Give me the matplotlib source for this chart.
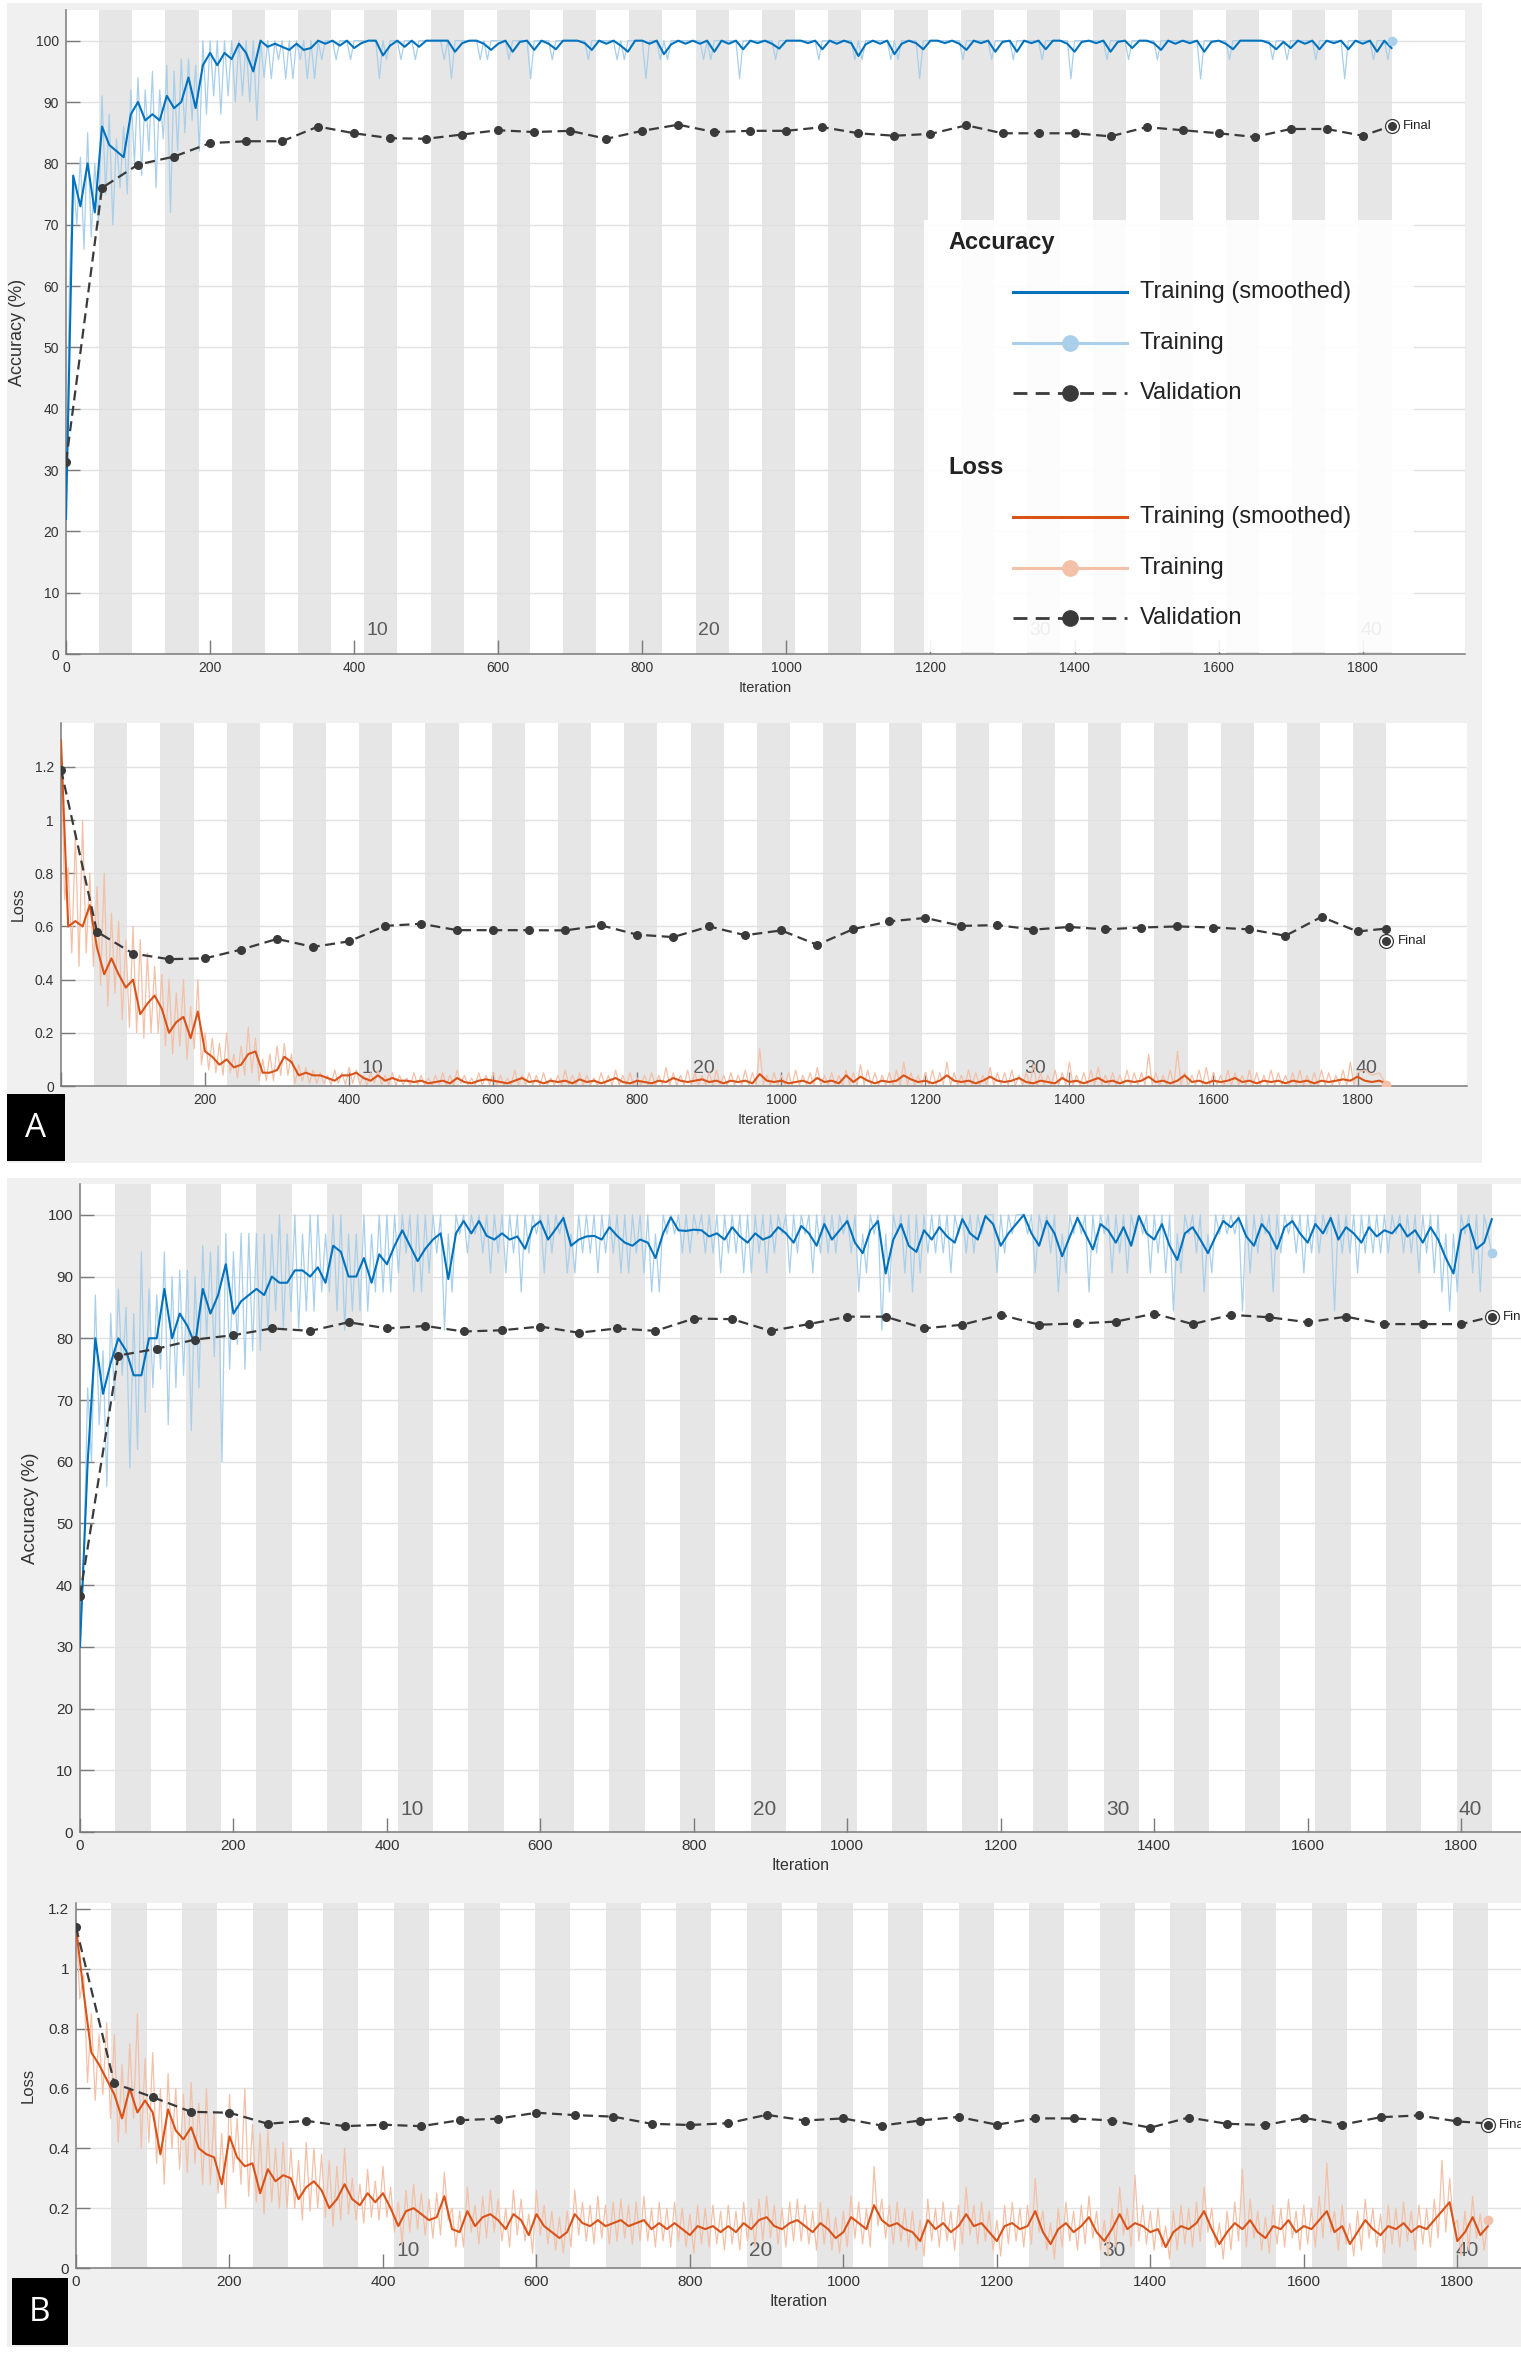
"""
Training-progress plots (MATLAB style) for two runs, panels A and B:
accuracy and loss vs iteration, 40 epochs x 46 iterations.
Values were read off the original figure by eye.
"""

import numpy as np
import matplotlib
matplotlib.use("Agg")
import matplotlib.pyplot as plt
import matplotlib.transforms as mtransforms
from matplotlib.patches import Rectangle
from matplotlib.lines import Line2D
from matplotlib.ticker import FuncFormatter, MultipleLocator

W, H = 1521, 2356

N_EPOCHS = 40
ITERS_PER_EPOCH = 46
STEP = 10                      # smoothed curves sampled every 10 iterations
EPOCH_LABELS = [10, 20, 30, 40]
VAL_ITERS = list(range(0, 1801, 50)) + [1840]

# ---------------- panel A, accuracy ----------------
acc_a_smooth = [
    22, 78, 73, 80, 72, 86, 83, 82, 81, 88,
    90, 87, 88, 87, 91, 89, 90, 94, 89, 96,
    98, 96, 98, 97, 99.5, 98, 95, 100, 99, 99.5,
    99, 98.5, 99.5, 98.5, 98.8, 100, 99.5, 100, 99.2, 100,
    98.8, 99.6, 100, 100, 97.6, 99.2, 100, 99, 100, 99,
    100, 100, 100, 100, 98.2, 99.6, 100, 100, 99.5, 98.5,
    99.5, 100, 98.2, 99.8, 100, 98.5, 100, 99.5, 98.6, 100,
    100, 100, 99.6, 98.5, 100, 99.5, 100, 99.2, 98.2, 100,
    100, 99.5, 100, 97.8, 99.4, 100, 99.5, 100, 99.5, 100,
    98.2, 100, 99.5, 100, 98.6, 100, 99.6, 100, 99.5, 98.7,
    100, 100, 100, 99.6, 100, 98.6, 100, 99.5, 100, 99.6,
    97.5, 99.4, 100, 99.5, 100, 97.8, 99.5, 100, 99.6, 98.6,
    100, 100, 99.6, 100, 99.5, 98.5, 100, 99.6, 100, 98.2,
    99.8, 100, 98.2, 100, 99.6, 100, 98.6, 100, 100, 99.5,
    98.2, 99.8, 100, 99.6, 100, 98.2, 99.8, 100, 98.8, 100,
    100, 99.6, 98.5, 100, 99.5, 100, 99.6, 100, 98.2, 99.8,
    100, 99.5, 98.6, 100, 100, 100, 100, 99.6, 98.6, 99.8,
    98.8, 100, 99.5, 100, 98.6, 100, 99.6, 100, 98.6, 100,
    99.5, 100, 98.2, 100, 98.8,
]
# raw mini-batch accuracy: at iterations 0, 10, 20, ... and 5, 15, 25, ...
acc_a_raw_even = [
    22, 78, 81, 85, 80, 91, 88, 84, 86, 92,
    94, 92, 95, 92, 96, 95, 97, 97, 96, 100,
    100, 100, 100, 100, 100, 100, 100, 100, 100, 100,
    100, 100, 100, 100, 100, 100, 100, 100, 100, 100,
    100, 100, 100, 100, 100, 100, 100, 100, 100, 100,
    100, 100, 100, 100, 100, 100, 100, 100, 100, 100,
    100, 100, 100, 100, 100, 100, 100, 100, 100, 100,
    100, 100, 100, 100, 100, 100, 100, 100, 100, 100,
    100, 100, 100, 100, 100, 100, 100, 100, 100, 100,
    100, 100, 100, 100, 100, 100, 100, 100, 100, 100,
    100, 100, 100, 100, 100, 100, 100, 100, 100, 100,
    100, 100, 100, 100, 100, 100, 100, 100, 100, 100,
    100, 100, 100, 100, 100, 100, 100, 100, 100, 100,
    100, 100, 100, 100, 100, 100, 100, 100, 100, 100,
    100, 100, 100, 100, 100, 100, 100, 100, 100, 100,
    100, 100, 100, 100, 100, 100, 100, 100, 100, 100,
    100, 100, 100, 100, 100, 100, 100, 100, 100, 100,
    100, 100, 100, 100, 100, 100, 100, 100, 100, 100,
    100, 100, 100, 100, 100,
]
acc_a_raw_odd = [
    62, 70, 66, 68, 70, 75, 70, 76, 75, 80,
    78, 82, 76, 84, 72, 82, 85, 87, 82, 88,
    91, 88, 91, 90, 91, 90, 87, 94, 93.8, 96.9,
    93.8, 93.8, 96.9, 93.8, 93.8, 96.9, 100, 96.9, 100, 96.9,
    100, 100, 100, 93.8, 96.9, 100, 96.9, 100, 96.9, 100,
    100, 100, 96.9, 93.8, 100, 100, 100, 96.9, 96.9, 100,
    100, 96.9, 100, 100, 93.8, 100, 100, 96.9, 100, 100,
    100, 100, 96.9, 100, 100, 100, 96.9, 96.9, 100, 100,
    93.8, 100, 96.9, 96.9, 100, 100, 100, 100, 96.9, 96.9,
    100, 100, 100, 93.8, 100, 100, 100, 100, 96.9, 100,
    100, 100, 100, 100, 96.9, 100, 100, 100, 100, 96.9,
    96.9, 100, 100, 100, 96.9, 96.9, 100, 100, 93.8, 100,
    100, 100, 100, 100, 96.9, 100, 100, 100, 96.9, 100,
    100, 96.9, 100, 100, 100, 96.9, 100, 100, 100, 93.8,
    100, 100, 100, 100, 96.9, 100, 100, 96.9, 100, 100,
    100, 96.9, 100, 100, 100, 100, 100, 93.8, 100, 100,
    100, 96.9, 100, 100, 100, 100, 100, 96.9, 100, 96.9,
    100, 100, 100, 96.9, 100, 100, 100, 93.8, 100, 100,
    100, 96.9, 100, 96.9,
]
acc_a_val = [
    31.3, 76.0, 79.8, 81.1, 83.3, 83.6, 83.6, 86.0, 84.9, 84.1,
    84.0, 84.7, 85.4, 85.1, 85.3, 84.0, 85.3, 86.3, 85.1, 85.3,
    85.3, 85.9, 84.9, 84.5, 84.8, 86.2, 84.9, 84.9, 84.9, 84.4,
    85.9, 85.4, 84.9, 84.3, 85.6, 85.6, 84.5, 86.1,
]
acc_a_final = 86.1

# ---------------- panel A, loss ----------------
loss_a_smooth = [
    1.30, 0.60, 0.62, 0.60, 0.68, 0.52, 0.42, 0.48, 0.42, 0.37,
    0.40, 0.27, 0.31, 0.34, 0.29, 0.20, 0.24, 0.26, 0.18, 0.28,
    0.13, 0.11, 0.08, 0.10, 0.07, 0.08, 0.12, 0.13, 0.05, 0.05,
    0.06, 0.11, 0.09, 0.04, 0.05, 0.04, 0.04, 0.03, 0.02, 0.04,
    0.04, 0.05, 0.03, 0.02, 0.04, 0.02, 0.03, 0.02, 0.02, 0.015,
    0.02, 0.01, 0.015, 0.02, 0.01, 0.03, 0.015, 0.01, 0.02, 0.025,
    0.02, 0.015, 0.01, 0.02, 0.03, 0.015, 0.02, 0.01, 0.02, 0.015,
    0.02, 0.01, 0.025, 0.015, 0.02, 0.01, 0.02, 0.03, 0.015, 0.01,
    0.02, 0.015, 0.01, 0.02, 0.015, 0.03, 0.02, 0.015, 0.02, 0.025,
    0.015, 0.02, 0.01, 0.02, 0.015, 0.02, 0.01, 0.045, 0.02, 0.015,
    0.02, 0.01, 0.015, 0.02, 0.01, 0.03, 0.015, 0.02, 0.01, 0.04,
    0.015, 0.035, 0.02, 0.01, 0.02, 0.015, 0.02, 0.04, 0.025, 0.015,
    0.02, 0.01, 0.02, 0.04, 0.02, 0.015, 0.02, 0.01, 0.02, 0.035,
    0.02, 0.015, 0.02, 0.03, 0.015, 0.01, 0.02, 0.015, 0.01, 0.03,
    0.015, 0.02, 0.01, 0.02, 0.03, 0.015, 0.02, 0.01, 0.02, 0.015,
    0.02, 0.035, 0.015, 0.02, 0.01, 0.02, 0.04, 0.015, 0.02, 0.01,
    0.02, 0.015, 0.02, 0.03, 0.015, 0.02, 0.01, 0.02, 0.015, 0.02,
    0.01, 0.02, 0.015, 0.02, 0.01, 0.02, 0.015, 0.02, 0.025, 0.02,
    0.035, 0.02, 0.015, 0.02, 0.01,
]
loss_a_raw_even = [
    1.30, 0.82, 0.95, 1.00, 0.80, 0.75, 0.80, 0.65, 0.62, 0.55,
    0.60, 0.55, 0.50, 0.45, 0.42, 0.40, 0.35, 0.40, 0.30, 0.40,
    0.20, 0.18, 0.16, 0.20, 0.12, 0.15, 0.22, 0.18, 0.10, 0.12,
    0.15, 0.16, 0.12, 0.08, 0.07, 0.06,
    0.05, 0.04, 0.06, 0.05, 0.07, 0.06, 0.04, 0.05, 0.06, 0.04,
    0.05, 0.04, 0.03, 0.05, 0.04, 0.03, 0.04, 0.05, 0.04, 0.06,
    0.04, 0.03, 0.05, 0.04, 0.05, 0.04, 0.03, 0.06, 0.04, 0.05,
    0.04, 0.05, 0.03, 0.04, 0.06, 0.04, 0.05, 0.04, 0.03, 0.05,
    0.04, 0.06, 0.04, 0.05, 0.03, 0.04, 0.05, 0.04, 0.07, 0.05,
    0.04, 0.06, 0.05, 0.04, 0.05, 0.06, 0.04, 0.05, 0.04, 0.06,
    0.05, 0.14, 0.04, 0.05, 0.04, 0.05, 0.06, 0.04, 0.05, 0.07,
    0.04, 0.05, 0.04, 0.06, 0.05, 0.08, 0.06, 0.05, 0.04, 0.05,
    0.06, 0.09, 0.05, 0.04, 0.05, 0.06, 0.05, 0.09, 0.05, 0.04,
    0.06, 0.05, 0.04, 0.07, 0.05, 0.05, 0.06, 0.04, 0.05, 0.08,
    0.05, 0.04, 0.06, 0.05, 0.09, 0.04, 0.05, 0.06, 0.07, 0.04,
    0.05, 0.04, 0.06, 0.05, 0.05, 0.12, 0.05, 0.04, 0.06, 0.13,
    0.05, 0.04, 0.06, 0.07, 0.05, 0.04, 0.06, 0.05, 0.04, 0.06,
    0.05, 0.04, 0.06, 0.05, 0.04, 0.05, 0.06, 0.04, 0.05, 0.06,
    0.05, 0.04, 0.06, 0.09, 0.05, 0.06, 0.04, 0.05, 0.005,
]
loss_a_raw_odd = [
    0.70, 0.50, 0.45, 0.50, 0.45, 0.38, 0.30, 0.35, 0.25, 0.22,
    0.20, 0.18, 0.20, 0.20, 0.15, 0.12, 0.15, 0.10, 0.14, 0.08,
    0.06, 0.05, 0.04, 0.05, 0.03, 0.04, 0.05, 0.02, 0.02, 0.02,
    0.04, 0.04, 0.01, 0.02, 0.01, 0.01,
    0.010, 0.005, 0.010, 0.004, 0.010, 0.006, 0.003, 0.010, 0.005, 0.004,
    0.003, 0.005, 0.002, 0.004, 0.003, 0.002, 0.004, 0.003, 0.002, 0.010,
    0.004, 0.003, 0.002, 0.005, 0.003, 0.002, 0.004, 0.003, 0.005, 0.002,
    0.003, 0.004, 0.002, 0.003, 0.005, 0.002, 0.003, 0.004, 0.002, 0.003,
    0.002, 0.004, 0.003, 0.002, 0.005, 0.003, 0.002, 0.004, 0.003, 0.002,
    0.004, 0.003, 0.002, 0.005, 0.003, 0.004, 0.002, 0.003, 0.004, 0.002,
    0.003, 0.005, 0.002, 0.003, 0.004, 0.002, 0.003, 0.005, 0.002, 0.003,
    0.004, 0.002, 0.003, 0.005, 0.002, 0.004, 0.003, 0.002, 0.004, 0.003,
    0.002, 0.005, 0.003, 0.002, 0.004, 0.003, 0.005, 0.002, 0.003, 0.004,
    0.002, 0.003, 0.004, 0.002, 0.005, 0.003, 0.002, 0.004, 0.003, 0.002,
    0.004, 0.003, 0.002, 0.005, 0.003, 0.002, 0.004, 0.003, 0.005, 0.002,
    0.003, 0.004, 0.002, 0.003, 0.005, 0.002, 0.003, 0.004, 0.002, 0.003,
    0.002, 0.004, 0.003, 0.002, 0.005, 0.003, 0.002, 0.004, 0.003, 0.002,
    0.004, 0.003, 0.002, 0.005, 0.003, 0.004, 0.002, 0.003, 0.004, 0.002,
    0.003, 0.005, 0.002, 0.004,
]
loss_a_val = [
    1.19, 0.58, 0.498, 0.477, 0.48, 0.513, 0.553, 0.523, 0.544, 0.602,
    0.61, 0.586, 0.586, 0.586, 0.585, 0.604, 0.569, 0.56, 0.60, 0.567,
    0.585, 0.531, 0.59, 0.619, 0.632, 0.602, 0.605, 0.588, 0.598, 0.589,
    0.596, 0.60, 0.596, 0.589, 0.565, 0.636, 0.581, 0.592,
]
loss_a_final = 0.545

# ---------------- panel B, accuracy ----------------
acc_b_smooth = [
    30, 60, 80, 71, 76, 80, 78, 74, 74, 80,
    80, 88, 80, 84, 82, 79, 88, 84, 87, 92,
    84, 86, 87, 88, 87, 90, 89, 89, 91, 91,
    90, 91.5, 89, 95, 94, 90, 90, 93, 89, 93.6,
    92, 95, 97.5, 95, 92.5, 94.5, 96, 97, 89.6, 97,
    99, 97, 99, 96.6, 96, 97, 96, 96.5, 94.5, 98,
    99, 96, 97.7, 99.5, 95, 96, 96.5, 96.6, 96, 98,
    96.6, 95.5, 95, 96, 95.5, 93, 97, 99.6, 97.5, 97.4,
    97.6, 97.5, 96.5, 97, 96, 98, 96.5, 95.5, 97, 96,
    96.5, 98, 97, 95.5, 98.2, 97, 95, 98.5, 96, 97.5,
    99, 95.5, 93.8, 97.5, 99, 90.5, 96, 98.5, 95, 94,
    97.5, 96, 98, 96.5, 95.5, 99.3, 97, 96, 99.8, 98.5,
    95, 97, 98.5, 100, 97, 95, 99, 97, 93.3, 96.5,
    99.5, 97, 94.4, 98.5, 97.5, 95.5, 98, 95, 99.8, 97,
    96, 98.5, 95, 92.7, 97, 98, 96, 93.8, 96.5, 99,
    98, 99.5, 96.5, 95, 98.5, 97, 94.5, 98, 99, 97,
    95.5, 98.5, 97, 99.5, 96, 98, 97, 95.5, 98, 96.5,
    97.5, 97, 98.5, 96.5, 97.5, 95.5, 98, 96, 93, 90.5,
    97.5, 98.5, 94.5, 95.5, 99.3,
]
acc_b_raw_even = [
    30, 72, 87, 78, 84, 88, 85, 84, 94, 88,
    87, 94, 90, 91, 91, 90, 95, 94, 95, 97,
    94, 97, 97, 97, 96.9, 96.9, 100, 96.9, 100, 96.9,
    100, 100, 96.9, 100, 100, 96.9,
    96.9, 100, 96.9, 100, 100, 100, 100, 100, 100, 100,
    100, 100, 96.9, 100, 100, 100, 100, 100, 100, 100,
    100, 100, 100, 100, 100, 100, 100, 100, 96.9, 100,
    100, 100, 100, 100, 100, 100, 100, 100, 100, 96.9,
    100, 100, 100, 100, 100, 100, 100, 100, 100, 100,
    100, 100, 100, 100, 100, 100, 100, 100, 100, 100,
    100, 100, 100, 100, 100, 100, 96.9, 100, 100, 96.9,
    100, 100, 100, 100, 100, 100, 100, 100, 100, 100,
    100, 100, 100, 100, 100, 100, 100, 100, 100, 100,
    100, 100, 96.9, 100, 100, 100, 100, 100, 100, 100,
    100, 100, 100, 100, 100, 100, 100, 96.9, 100, 100,
    100, 96.9, 100, 100, 100, 100, 100, 100, 100, 100,
    100, 100, 100, 100, 100, 100, 100, 100, 100, 100,
    100, 100, 100, 100, 100, 100, 100, 100, 100, 100,
    100, 100, 96.9, 96.9, 100, 100, 100, 100, 93.75,
]
acc_b_raw_odd = [
    45, 60, 66, 56, 70, 74, 59, 62, 68, 72,
    75, 66, 72, 74, 65, 72, 80, 77, 60, 75,
    79, 75, 78, 78, 81.3, 84.4, 81.3, 84.4, 81.3, 84.4,
    84.4, 87.5, 87.5, 84.4, 81.3, 84.4,
    84.4, 84.4, 87.5, 87.5, 87.5, 90.6, 93.8, 87.5, 87.5, 90.6,
    93.8, 81.3, 87.5, 96.9, 93.8, 96.9, 93.8, 90.6, 93.8, 90.6,
    93.8, 87.5, 93.8, 96.9, 90.6, 93.8, 96.9, 90.6, 90.6, 93.8,
    93.8, 90.6, 93.8, 93.8, 90.6, 90.6, 93.8, 90.6, 87.5, 87.5,
    96.9, 96.9, 93.8, 93.8, 96.9, 93.8, 93.8, 90.6, 93.8, 93.8,
    90.6, 90.6, 93.8, 90.6, 93.8, 96.9, 90.6, 93.8, 96.9, 90.6,
    93.8, 93.8, 93.8, 96.9, 93.8, 87.5, 90.6, 96.9, 81.3, 87.5,
    96.9, 90.6, 87.5, 90.6, 93.8, 93.8, 93.8, 90.6, 96.9, 93.8,
    93.8, 96.9, 100, 90.6, 93.8, 96.9, 100, 96.9, 90.6, 96.9,
    93.8, 87.5, 90.6, 96.9, 96.9, 87.5, 93.8, 96.9, 90.6, 93.8,
    90.6, 96.9, 96.9, 90.6, 93.8, 90.6, 84.4, 90.6, 96.9, 93.8,
    87.5, 90.6, 96.9, 96.9, 96.9, 84.4, 90.6, 93.8, 96.9, 87.5,
    93.8, 96.9, 93.8, 90.6, 93.8, 93.8, 96.9, 84.4, 93.8, 93.8,
    90.6, 93.8, 93.8, 93.8, 93.8, 96.9, 93.8, 93.8, 90.6, 93.8,
    90.6, 87.5, 84.4, 87.5, 96.9, 90.6, 87.5, 96.9,
]
acc_b_val = [
    38.3, 77.2, 78.3, 79.8, 80.5, 81.6, 81.2, 82.6, 81.6, 82.0,
    81.1, 81.3, 81.9, 80.9, 81.6, 81.2, 83.2, 83.1, 81.2, 82.3,
    83.5, 83.5, 81.6, 82.2, 83.8, 82.2, 82.4, 82.7, 84.0, 82.3,
    83.8, 83.4, 82.6, 83.5, 82.3, 82.3, 82.3, 83.5,
]
acc_b_final = 83.5

# ---------------- panel B, loss ----------------
loss_b_smooth = [
    1.14, 0.92, 0.72, 0.68, 0.63, 0.58, 0.50, 0.60, 0.52, 0.56,
    0.52, 0.38, 0.53, 0.46, 0.43, 0.47, 0.40, 0.38, 0.37, 0.28,
    0.44, 0.37, 0.34, 0.35, 0.25, 0.33, 0.29, 0.31, 0.30, 0.23,
    0.27, 0.29, 0.26, 0.20, 0.23, 0.28, 0.23, 0.21, 0.25, 0.22,
    0.25, 0.20, 0.14, 0.19, 0.20, 0.18, 0.16, 0.17, 0.24, 0.13,
    0.12, 0.19, 0.14, 0.17, 0.18, 0.16, 0.13, 0.18, 0.16, 0.11,
    0.18, 0.14, 0.12, 0.10, 0.12, 0.18, 0.15, 0.14, 0.16, 0.14,
    0.15, 0.16, 0.14, 0.15, 0.16, 0.13, 0.15, 0.13, 0.15, 0.13,
    0.11, 0.14, 0.13, 0.14, 0.12, 0.14, 0.12, 0.15, 0.13, 0.16,
    0.17, 0.14, 0.13, 0.15, 0.16, 0.14, 0.12, 0.15, 0.13, 0.10,
    0.12, 0.17, 0.15, 0.13, 0.21, 0.16, 0.14, 0.15, 0.13, 0.12,
    0.09, 0.16, 0.13, 0.15, 0.12, 0.14, 0.18, 0.14, 0.15, 0.12,
    0.09, 0.14, 0.15, 0.13, 0.14, 0.19, 0.12, 0.08, 0.13, 0.15,
    0.12, 0.14, 0.17, 0.12, 0.09, 0.13, 0.18, 0.13, 0.15, 0.14,
    0.12, 0.13, 0.07, 0.12, 0.14, 0.13, 0.15, 0.19, 0.13, 0.08,
    0.12, 0.15, 0.13, 0.16, 0.12, 0.10, 0.14, 0.13, 0.16, 0.12,
    0.14, 0.13, 0.16, 0.19, 0.12, 0.14, 0.08, 0.12, 0.16, 0.13,
    0.11, 0.14, 0.13, 0.15, 0.12, 0.14, 0.13, 0.16, 0.19, 0.22,
    0.09, 0.12, 0.17, 0.11, 0.14,
]
loss_b_raw_even = [
    1.16, 0.98, 0.85, 0.78, 0.82, 0.78, 0.68, 0.75, 0.85, 0.70,
    0.72, 0.60, 0.65, 0.60, 0.58, 0.62, 0.55, 0.60, 0.52, 0.45,
    0.58, 0.50, 0.60, 0.48, 0.45, 0.46, 0.40, 0.42, 0.40, 0.36,
    0.42, 0.40, 0.38, 0.36, 0.34, 0.40,
    0.30, 0.28, 0.33, 0.29, 0.34, 0.27, 0.22, 0.26, 0.28, 0.25,
    0.23, 0.25, 0.32, 0.20, 0.19, 0.27, 0.21, 0.24, 0.26, 0.23,
    0.20, 0.26, 0.23, 0.18, 0.26, 0.21, 0.19, 0.17, 0.19, 0.26,
    0.22, 0.21, 0.24, 0.21, 0.22, 0.23, 0.21, 0.22, 0.24, 0.20,
    0.22, 0.20, 0.22, 0.20, 0.18, 0.21, 0.20, 0.21, 0.19, 0.21,
    0.19, 0.22, 0.20, 0.23, 0.24, 0.21, 0.20, 0.22, 0.23, 0.21,
    0.19, 0.22, 0.20, 0.17, 0.19, 0.24, 0.22, 0.20, 0.34, 0.23,
    0.21, 0.22, 0.20, 0.19, 0.16, 0.23, 0.20, 0.22, 0.19, 0.21,
    0.27, 0.21, 0.22, 0.19, 0.16, 0.21, 0.22, 0.20, 0.21, 0.30,
    0.19, 0.15, 0.20, 0.22, 0.19, 0.21, 0.24, 0.19, 0.16, 0.20,
    0.27, 0.20, 0.31, 0.21, 0.19, 0.20, 0.14, 0.19, 0.21, 0.20,
    0.22, 0.27, 0.20, 0.15, 0.19, 0.22, 0.33, 0.23, 0.19, 0.17,
    0.21, 0.20, 0.23, 0.19, 0.21, 0.20, 0.24, 0.35, 0.19, 0.21,
    0.15, 0.19, 0.23, 0.20, 0.18, 0.21, 0.20, 0.22, 0.19, 0.21,
    0.20, 0.23, 0.36, 0.30, 0.16, 0.19, 0.24, 0.18, 0.16,
]
loss_b_raw_odd = [
    0.90, 0.62, 0.56, 0.58, 0.50, 0.42, 0.45, 0.50, 0.40, 0.42,
    0.35, 0.28, 0.40, 0.33, 0.32, 0.35, 0.28, 0.28, 0.25, 0.20,
    0.32, 0.28, 0.24, 0.22, 0.18, 0.22, 0.20, 0.20, 0.20, 0.16,
    0.19, 0.20, 0.17, 0.14, 0.16, 0.18,
    0.16, 0.15, 0.17, 0.16, 0.17, 0.12, 0.08, 0.12, 0.13, 0.11,
    0.10, 0.11, 0.16, 0.07, 0.07, 0.12, 0.08, 0.10, 0.12, 0.09,
    0.07, 0.11, 0.09, 0.05, 0.11, 0.08, 0.06, 0.05, 0.07, 0.11,
    0.09, 0.08, 0.10, 0.08, 0.09, 0.10, 0.08, 0.09, 0.09, 0.07,
    0.09, 0.07, 0.09, 0.07, 0.05, 0.08, 0.07, 0.08, 0.06, 0.08,
    0.06, 0.09, 0.07, 0.09, 0.10, 0.08, 0.07, 0.09, 0.09, 0.08,
    0.06, 0.08, 0.06, 0.05, 0.07, 0.10, 0.08, 0.07, 0.14, 0.10,
    0.08, 0.09, 0.07, 0.06, 0.04, 0.09, 0.07, 0.09, 0.06, 0.08,
    0.11, 0.08, 0.09, 0.06, 0.04, 0.08, 0.09, 0.07, 0.08, 0.12,
    0.06, 0.03, 0.07, 0.09, 0.06, 0.08, 0.10, 0.06, 0.04, 0.07,
    0.11, 0.07, 0.09, 0.08, 0.06, 0.07, 0.03, 0.06, 0.08, 0.07,
    0.09, 0.12, 0.07, 0.03, 0.06, 0.09, 0.07, 0.10, 0.06, 0.05,
    0.08, 0.07, 0.10, 0.06, 0.08, 0.07, 0.10, 0.12, 0.06, 0.08,
    0.04, 0.06, 0.10, 0.07, 0.05, 0.08, 0.07, 0.09, 0.06, 0.08,
    0.07, 0.10, 0.12, 0.14, 0.04, 0.06, 0.10, 0.06,
]
loss_b_val = [
    1.139, 0.617, 0.571, 0.522, 0.519, 0.482, 0.492, 0.474, 0.479, 0.474,
    0.494, 0.499, 0.519, 0.511, 0.506, 0.482, 0.478, 0.484, 0.512, 0.493,
    0.50, 0.476, 0.493, 0.505, 0.479, 0.50, 0.50, 0.493, 0.469, 0.503,
    0.482, 0.478, 0.502, 0.479, 0.504, 0.51, 0.49, 0.483,
]
loss_b_final = 0.478

# ---------------- style ----------------
BLUE = "#0072bd"
BLUE_RAW = "#a9cfea"
ORANGE = "#d95319"
ORANGE_RAW = "#f3c0a8"
VAL = "#3a3a3a"
STRIPE = "#e6e6e6"
PANEL_BG = "#f0f0f0"
AXIS = "#7a7a7a"
TEXT = "#333333"

plt.rcParams["font.family"] = ["Liberation Sans", "DejaVu Sans"]

fig = plt.figure(figsize=(W / 100, H / 100), dpi=100)
fig.patch.set_facecolor("white")


def fxy(px, py):
    """figure pixel (origin top-left) -> figure fraction"""
    return px / W, 1 - py / H


def add_axes_px(x0, y0, x1, y1):
    return fig.add_axes([x0 / W, 1 - y1 / H, (x1 - x0) / W, (y1 - y0) / H])


def interleave(even, odd):
    x = np.concatenate([STEP * np.arange(len(even)), STEP // 2 + STEP * np.arange(len(odd))])
    y = np.concatenate([np.asarray(even, float), np.asarray(odd, float)])
    order = np.argsort(x, kind="stable")
    return x[order], y[order]


def style_axes(ax, xmax, ymax, ystep, fmt, ylabel, ylabel_x, size, ylabel_size, epoch_px):
    ax.set_xlim(0, xmax)
    ax.set_ylim(0, ymax)
    for k in range(N_EPOCHS):
        if k % 2 == 1:
            ax.axvspan(k * ITERS_PER_EPOCH, (k + 1) * ITERS_PER_EPOCH,
                       color=STRIPE, lw=0, zorder=0)
    ax.set_axisbelow(True)
    ax.yaxis.grid(True, color="#e1e1e1", lw=1.0)
    ax.xaxis.set_major_locator(MultipleLocator(200))
    ax.yaxis.set_major_locator(MultipleLocator(ystep))
    ax.yaxis.set_major_formatter(FuncFormatter(fmt))
    ax.tick_params(direction="in", length=10, width=1.0, color=AXIS,
                   labelsize=size, labelcolor=TEXT, pad=5)
    for side in ("top", "right"):
        ax.spines[side].set_visible(False)
    for side in ("left", "bottom"):
        ax.spines[side].set_color(AXIS)
        ax.spines[side].set_linewidth(1.1)
    ax.set_xlabel("Iteration", fontsize=size + 0.5, color=TEXT, labelpad=4)
    ax.set_ylabel(ylabel, fontsize=ylabel_size, color=TEXT)
    ax.yaxis.set_label_coords(ylabel_x, 0.5)
    # epoch numbers along the bottom
    h_px = ax.get_position().height * H
    trans = mtransforms.blended_transform_factory(ax.transData, ax.transAxes)
    for e in EPOCH_LABELS:
        ax.text((e - 1) * ITERS_PER_EPOCH + 3, epoch_px / h_px, str(e),
                transform=trans, fontsize=size + 4, color="#5a5a5a",
                ha="left", va="baseline", zorder=1)


def plot_metric(ax, smooth, raw_even, raw_odd, val, final_val, c_main, c_raw):
    xs = STEP * np.arange(len(smooth))
    xr, yr = interleave(raw_even, raw_odd)
    ax.plot(xr, yr, color=c_raw, lw=0.9, zorder=2)
    ax.plot(xs, smooth, color=c_main, lw=1.5, zorder=3)
    ax.plot(xr[-1], yr[-1], "o", color=c_raw, ms=6, zorder=3)
    ax.plot(VAL_ITERS, val, color=VAL, lw=1.6, ls=(0, (4.5, 2.5)),
            marker="o", ms=5.5, zorder=4)
    ax.plot(VAL_ITERS[-1], final_val, "o", ms=10, mfc="white", mec=VAL, mew=0.9, zorder=5)
    ax.plot(VAL_ITERS[-1], final_val, "o", ms=5.5, color=VAL, zorder=6)
    ax.annotate("Final", (VAL_ITERS[-1], final_val), xytext=(8, 0),
                textcoords="offset points", va="center", fontsize=9.5,
                color="#222222", zorder=6, annotation_clip=False)


def pct_fmt(v, _):
    return f"{v:.0f}"


def loss_fmt(v, _):
    return f"{v:g}"


# panel backgrounds
for x0, y0, x1, y1 in [(7, 3, 1482, 1163), (7, 1178, 1521, 2347)]:
    fig.add_artist(Rectangle(fxy(x0, y1), (x1 - x0) / W, (y1 - y0) / H,
                             transform=fig.transFigure, facecolor=PANEL_BG,
                             edgecolor="none", zorder=-5))

ax_acc_a = add_axes_px(66, 10, 1465, 654)
ax_loss_a = add_axes_px(61, 723, 1467, 1086)
ax_acc_b = add_axes_px(80, 1184, 1521, 1832)
ax_loss_b = add_axes_px(76, 1903, 1521, 2268)

style_axes(ax_acc_a, 1942, 105, 10, pct_fmt, "Accuracy (%)", -40 / 1399, 10, 13, 19)
style_axes(ax_loss_a, 1952, 1.365, 0.2, loss_fmt, "Loss", -35 / 1406, 10, 11.5, 13)
style_axes(ax_acc_b, 1878, 105, 10, pct_fmt, "Accuracy (%)", -41 / 1441, 11, 13.5, 17)
style_axes(ax_loss_b, 1883, 1.22, 0.2, loss_fmt, "Loss", -40 / 1445, 11, 12, 12)

plot_metric(ax_acc_a, acc_a_smooth, acc_a_raw_even, acc_a_raw_odd, acc_a_val,
            acc_a_final, BLUE, BLUE_RAW)
plot_metric(ax_loss_a, loss_a_smooth, loss_a_raw_even, loss_a_raw_odd, loss_a_val,
            loss_a_final, ORANGE, ORANGE_RAW)
plot_metric(ax_acc_b, acc_b_smooth, acc_b_raw_even, acc_b_raw_odd, acc_b_val,
            acc_b_final, BLUE, BLUE_RAW)
plot_metric(ax_loss_b, loss_b_smooth, loss_b_raw_even, loss_b_raw_odd, loss_b_val,
            loss_b_final, ORANGE, ORANGE_RAW)

# legend of panel A (drawn by hand to get the MATLAB layout with group headers)
ax = ax_acc_a
ax.add_patch(Rectangle(fxy(924, 652), (1414 - 924) / W, (652 - 220) / H,
                       transform=fig.transFigure, facecolor="white", alpha=0.9,
                       edgecolor="none", zorder=7))
legend_rows = [
    (243, "Accuracy", None),
    (292, "Training (smoothed)", ("solid", BLUE)),
    (343, "Training", ("raw", BLUE_RAW)),
    (393, "Validation", ("val", VAL)),
    (468, "Loss", None),
    (517, "Training (smoothed)", ("solid", ORANGE)),
    (568, "Training", ("raw", ORANGE_RAW)),
    (618, "Validation", ("val", VAL)),
]
for py, label, handle in legend_rows:
    if handle is None:
        ax.text(*fxy(948, py), label, transform=fig.transFigure, fontsize=17,
                fontweight="bold", color="#222222", va="center", zorder=8)
        continue
    kind, color = handle
    xs = [1013 / W, 1070 / W, 1127 / W]
    ys = [fxy(0, py)[1]] * 3
    if kind == "solid":
        ln = Line2D(xs, ys, color=color, lw=2.2)
    elif kind == "raw":
        ln = Line2D(xs, ys, color=color, lw=2.2, marker="o", ms=11,
                    markevery=[1])
    else:
        ln = Line2D(xs, ys, color=color, lw=2.0, ls=(0, (5, 3)), marker="o",
                    ms=11, markevery=[1])
    ln.set_transform(fig.transFigure)
    ln.set_zorder(8)
    ax.add_artist(ln)
    ax.text(*fxy(1140, py), label, transform=fig.transFigure, fontsize=17,
            color="#222222", va="center", zorder=8)

# panel letters
for letter, (x0, y0, x1, y1) in [("A", (7, 1094, 65, 1161)), ("B", (12, 2278, 68, 2345))]:
    fig.add_artist(Rectangle(fxy(x0, y1), (x1 - x0) / W, (y1 - y0) / H,
                             transform=fig.transFigure, facecolor="black",
                             edgecolor="none", zorder=10))
    fig.text(*fxy((x0 + x1) / 2, (y0 + y1) / 2 + 1), letter, color="white",
             fontsize=24, family=["Open Sans", "DejaVu Sans"],
             ha="center", va="center", zorder=11)

fig.savefig("out.png", dpi=100, facecolor="white")
